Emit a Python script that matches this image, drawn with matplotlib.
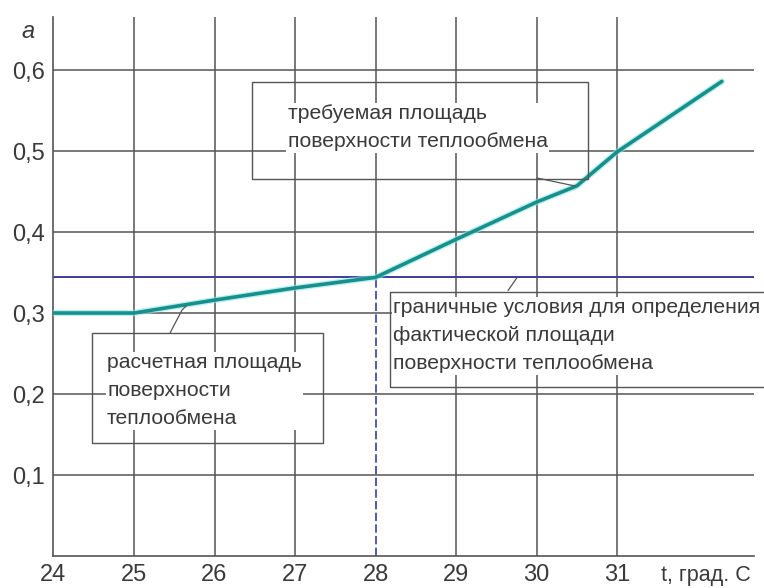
import matplotlib.pyplot as plt
from matplotlib.patches import Rectangle

# Heat exchange surface vs. temperature
t_ticks = [24, 25, 26, 27, 28, 29, 30, 31]
a_ticks = [0.1, 0.2, 0.3, 0.4, 0.5, 0.6]
a_tick_labels = ['0,1', '0,2', '0,3', '0,4', '0,5', '0,6']

curve_t = [24, 25, 26, 27, 28, 29, 30, 30.5, 31, 32.3]
curve_a = [0.300, 0.300, 0.316, 0.331, 0.344, 0.391, 0.437, 0.457, 0.499, 0.586]

limit_t = 28
limit_a = 0.344

label_required = 'требуемая площадь\nповерхности теплообмена'
label_design = 'расчетная площадь\nповерхности\nтеплообмена'
label_limit = 'граничные условия для определения\nфактической площади\nповерхности теплообмена'

plt.rcParams['font.family'] = ['Liberation Sans', 'DejaVu Sans']

GRID = '#555555'
TEXT = '#3a3a3a'
TEAL = '#17908c'
BLUE = '#3c3c9c'

fig = plt.figure(figsize=(7.64, 5.88), dpi=100)
ax = fig.add_axes([0.070, 0.0544, 0.917, 0.916])
ax.set_xlim(24, 32.7)
ax.set_ylim(0, 0.665)

for s in ['top', 'right']:
    ax.spines[s].set_visible(False)
for s in ['left', 'bottom']:
    ax.spines[s].set_color(GRID)
    ax.spines[s].set_linewidth(1.2)

ax.set_xticks(t_ticks)
ax.set_yticks(a_ticks)
ax.set_yticklabels(a_tick_labels)
ax.tick_params(length=0, labelsize=17, colors=TEXT, pad=6)

# grid
for y in a_ticks:
    ax.axhline(y, color=GRID, lw=1.1, zorder=1)
for x in t_ticks[1:]:
    if x == limit_t:
        ax.vlines(x, limit_a, 0.665, color=GRID, lw=1.1, zorder=1)
        ax.vlines(x, 0, limit_a, color=BLUE, lw=1.2, linestyles=(0, (5, 2)), zorder=2)
    else:
        ax.vlines(x, 0, 0.665, color=GRID, lw=1.1, zorder=1)

ax.axhline(limit_a, color=BLUE, lw=1.4, zorder=2)

# curve with a light halo
ax.plot(curve_t, curve_a, color='#8fe6e6', lw=4.5, alpha=0.6, zorder=3, solid_capstyle='round')
ax.plot(curve_t, curve_a, color=TEAL, lw=2.6, zorder=4, solid_capstyle='round')

# annotation boxes
def frame(x0, y0, x1, y1):
    ax.add_patch(Rectangle((x0, y0), x1 - x0, y1 - y0, fill=False,
                           edgecolor=GRID, lw=1.0, zorder=5, clip_on=False))

def note(x, y, s):
    ax.text(x, y, s, fontsize=15.2, color=TEXT, va='top', ha='left', linespacing=1.6,
            zorder=6, bbox=dict(facecolor='white', edgecolor='none', pad=1))

frame(26.466, 0.4654, 30.64, 0.585)
note(26.91, 0.558, label_required)
ax.plot([30.006, 30.478], [0.4667, 0.4568], color=GRID, lw=0.9, zorder=5)

frame(24.478, 0.1395, 27.348, 0.2753)
note(24.665, 0.2506, label_design)
ax.plot([25.447, 25.596, 25.646], [0.2753, 0.3037, 0.3086], color=GRID, lw=0.9, zorder=5)

frame(28.18, 0.2086, 33.2, 0.326)
note(28.217, 0.3185, label_limit)
ax.plot([29.646, 29.758], [0.328, 0.344], color=GRID, lw=0.9, zorder=5)

# axis labels
ax.text(23.68, 0.647, 'a', fontsize=17, style='italic', color=TEXT,
        ha='center', va='center', clip_on=False)
ax.text(31.55, -0.0235, 't, град. С', fontsize=15.5, color=TEXT,
        ha='left', va='center', clip_on=False)

fig.savefig('out.png', dpi=100)
